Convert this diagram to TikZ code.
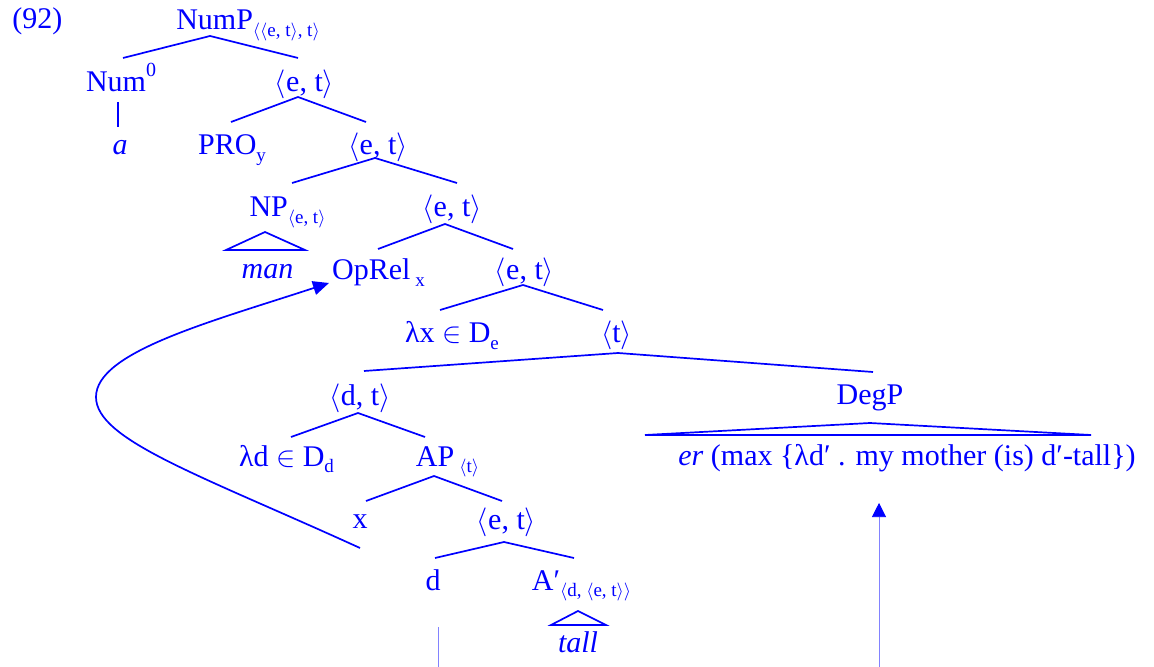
\documentclass[tikz,border=0pt]{standalone}
\usepackage{fontspec}
\setmainfont{Liberation Serif}
\usetikzlibrary{arrows.meta}
\definecolor{tb}{RGB}{0,0,255}
\definecolor{lb}{RGB}{130,130,255}
\newcommand{\sbx}[1]{\raisebox{-0.45ex}{\fontsize{9.5}{10}\selectfont #1}}
\newcommand{\la}{$\langle$}
\newcommand{\ra}{$\rangle$}
\begin{document}
\begin{tikzpicture}[x=0.5pt,y=-0.5pt,
  lab/.style={text=tb,inner sep=0pt,anchor=base,font=\fontsize{15}{18}\selectfont},
  br/.style={draw=tb,line width=0.85pt},
  fineline/.style={draw=lb,line width=0.3pt}]
\useasboundingbox (0,0) rectangle (1154,667);
% labels
\node[lab,anchor=base west] (ex) at (12,29) {(92)};
\node[lab] (nump) at (248,30) {NumP\sbx{\la\la e, t\ra, t\ra}};
\node[lab] (num0) at (121,92) {Num\raisebox{1.1ex}{\fontsize{10}{10}\selectfont 0}};
\node[lab] (et1) at (304.5,92) {\la e, t\ra};
\node[lab] (a) at (120,155) {\textit{a}};
\node[lab] (pro) at (232,155) {PRO\sbx{y}};
\node[lab] (et2) at (378,155) {\la e, t\ra};
\node[lab] (np) at (287.5,217) {NP\sbx{\la e, t\ra}};
\node[lab] (et3) at (452,217) {\la e, t\ra};
\node[lab] (man) at (267.5,279) {\textit{man}};
\node[lab] (oprel) at (378.5,280) {OpRel\,\sbx{x}};
\node[lab] (et4) at (524.5,280) {\la e, t\ra};
\node[lab] (lx) at (452,343) {λx $\in$ D\sbx{e}};
\node[lab] (t) at (616.5,343) {\la t\ra};
\node[lab] (dt) at (360,405) {\la d, t\ra};
\node[lab] (degp) at (870,404) {DegP};
\node[lab] (ld) at (286.5,466) {λd $\in$ D\sbx{d}};
\node[lab] (ap) at (447.5,466) {AP\,\sbx{\la t\ra}};
\node[lab] (er) at (907,465) {\textit{er} (max \{λd′ . my mother (is) d′-tall\})};
\node[lab] (x) at (360,528) {x};
\node[lab] (et5) at (506.5,529) {\la e, t\ra};
\node[lab] (d) at (433,590) {d};
\node[lab] (ap2) at (581.5,590) {A′\sbx{\la d, \la e, t\ra\ra}};
\node[lab] (tall) at (578,652) {\textit{tall}};
% branch points
\coordinate (nump-a) at (210,36); \coordinate (nump-l) at (123,58); \coordinate (nump-r) at (298,58);
\coordinate (num0-a) at (118,102); \coordinate (num0-b) at (118,127);
\coordinate (et1-a) at (298,97); \coordinate (et1-l) at (231,122); \coordinate (et1-r) at (366,122);
\coordinate (et2-a) at (375,158); \coordinate (et2-l) at (292,183); \coordinate (et2-r) at (457,183);
\coordinate (np-a) at (265,232); \coordinate (np-l) at (226,250); \coordinate (np-r) at (305,250);
\coordinate (et3-a) at (445,224); \coordinate (et3-l) at (378,249); \coordinate (et3-r) at (513,249);
\coordinate (et4-a) at (523,285); \coordinate (et4-l) at (440,310); \coordinate (et4-r) at (603,310);
\coordinate (t-a) at (618,353); \coordinate (t-l) at (364,371); \coordinate (t-r) at (873,372);
\coordinate (deg-a) at (870,423); \coordinate (deg-l) at (645,435); \coordinate (deg-r) at (1091,435);
\coordinate (dt-a) at (358,413); \coordinate (dt-l) at (291,437); \coordinate (dt-r) at (425,437);
\coordinate (ap-a) at (434,476); \coordinate (ap-l) at (366,501); \coordinate (ap-r) at (502,501);
\coordinate (et5-a) at (504,542); \coordinate (et5-l) at (435,558); \coordinate (et5-r) at (574,558);
\coordinate (tall-a) at (578,611); \coordinate (tall-l) at (551,625); \coordinate (tall-r) at (606,625);
\coordinate (mv-s) at (360,548); \coordinate (mv-m) at (96,397); \coordinate (mv-e) at (329,283);
\coordinate (d-top) at (438,627); \coordinate (d-bot) at (438,667);
\coordinate (er-tip) at (879,503); \coordinate (er-bot) at (879,667);
% branches
\draw[br] (nump-l) -- (nump-a) -- (nump-r);
\draw[br] (num0-a) -- (num0-b);
\draw[br] (et1-l) -- (et1-a) -- (et1-r);
\draw[br] (et2-l) -- (et2-a) -- (et2-r);
\draw[br] (np-l) -- (np-a) -- (np-r) -- cycle;
\draw[br] (et3-l) -- (et3-a) -- (et3-r);
\draw[br] (et4-l) -- (et4-a) -- (et4-r);
\draw[br] (t-l) -- (t-a) -- (t-r);
\draw[br] (deg-l) -- (deg-a) -- (deg-r) -- cycle;
\draw[br] (dt-l) -- (dt-a) -- (dt-r);
\draw[br] (ap-l) -- (ap-a) -- (ap-r);
\draw[br] (et5-l) -- (et5-a) -- (et5-r);
\draw[br] (tall-l) -- (tall-a) -- (tall-r) -- cycle;
% movement
\draw[br,-{Triangle[length=8pt,width=7pt]}] (mv-s) .. controls (200,475) and (96,440) .. (mv-m) .. controls (96,352) and (210,322) .. (mv-e);
\draw[fineline] (d-top) -- (d-bot);
\draw[fineline,{Triangle[length=7pt,width=7pt,color=tb]}-] (er-tip) -- (er-bot);
\end{tikzpicture}
\end{document}
